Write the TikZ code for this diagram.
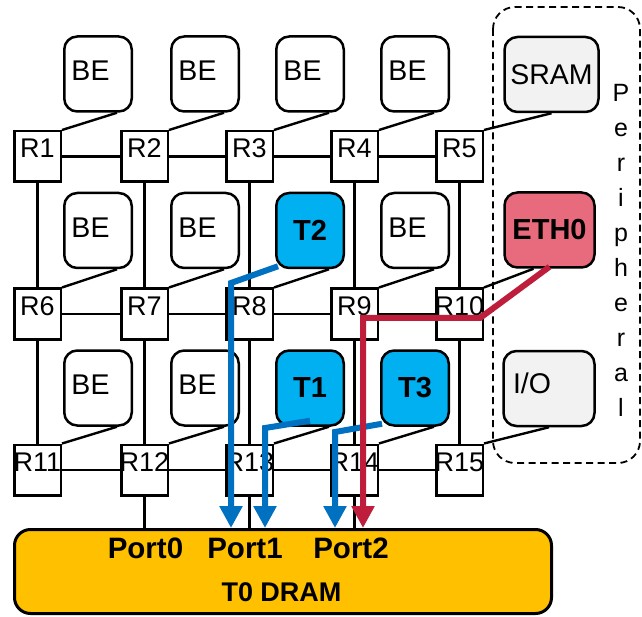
\documentclass[tikz,border=0pt]{standalone}
\usepackage{fontspec}
\setmainfont{Liberation Sans}
\usetikzlibrary{arrows.meta}
\definecolor{tcyan}{HTML}{00B0F0}
\definecolor{flowblue}{HTML}{0070C0}
\definecolor{flowred}{HTML}{BE1E3C}
\definecolor{ethpink}{HTML}{E86A7D}
\definecolor{perigray}{HTML}{F2F2F2}
\definecolor{dramgold}{HTML}{FFC000}
\begin{document}
\begin{tikzpicture}[x=1pt,y=-1pt,
  rlab/.style={font=\fontsize{27}{30}\selectfont, inner sep=0pt, yshift=8pt},
  router/.style={draw, line width=2.5pt, minimum width=46.5pt, minimum height=50.5pt, inner sep=0pt, fill=white, label={[rlab]center:#1}},
  blab/.style={font=\fontsize{28.5}{30}\selectfont, inner sep=0pt, xshift=-7.5pt, yshift=3pt},
  tile/.style={draw, line width=2.5pt, rounded corners=13pt, minimum width=67.5pt, minimum height=75pt, inner sep=0pt},
  betile/.style={tile, fill=white, label={[blab]center:BE}},
  ttile/.style={tile, fill=tcyan, font=\fontsize{29}{30}\selectfont\bfseries},
  link/.style={line width=2.4pt},
  flow/.style={line width=6pt, -{Triangle[width=22pt,length=22pt]}},
  boldlab/.style={font=\fontsize{29.5}{30}\selectfont\bfseries, inner sep=0pt},
  perilab/.style={font=\fontsize{25}{30}\selectfont, inner sep=0pt, anchor=base}
]
\useasboundingbox (0,0) rectangle (642,617);

% peripheral group
\draw[line width=1.8pt, dash pattern=on 7pt off 4.5pt, rounded corners=22pt] (493,7) rectangle (640,463);
\foreach \ch [count=\k from 0] in {P,e,r,i,p,h,e,r,a,l}
  \node[perilab] (pl\k) at (621,{101.7+35*\k}) {\ch};

% routers
\foreach \r/\y in {0/156.5,1/314,2/470}{
  \foreach \c/\x in {1/37.5,2/144.5,3/249.5,4/354.5,5/459.5}{
    \pgfmathtruncatemacro\n{\r*5+\c}
    \node[router=R\n] (r\n) at (\x,\y) {};
  }
}

% tiles
\node[betile] (be1) at (98,74) {};
\node[betile] (be2) at (205,74) {};
\node[betile] (be3) at (310,74) {};
\node[betile] (be4) at (415,74) {};
\node[tile, fill=perigray, minimum width=94pt, font=\fontsize{28.5}{30}\selectfont] (sram) at (551.5,74.5) {SRAM};

\node[betile] (be5) at (98,230.5) {};
\node[betile] (be6) at (205,230.5) {};
\node[ttile] (t2) at (310,230.5) {T2};
\node[betile] (be7) at (415,230.5) {};
\node[tile, fill=ethpink, minimum width=90pt, font=\fontsize{29}{30}\selectfont\bfseries] (eth0) at (549.5,230) {ETH0};

\node[betile] (be8) at (98,388) {};
\node[betile] (be9) at (205,388) {};
\node[ttile] (t1) at (310,388) {T1};
\node[ttile] (t3) at (415,388) {T3};
\node[tile, fill=perigray, minimum width=91pt, label={[font=\fontsize{28.5}{30}\selectfont, inner sep=0pt, xshift=-17pt, yshift=5pt]center:I/O}] (io) at (549,388.5) {};

% tile to router connectors
\foreach \t/\rr in {be1/r1,be2/r2,be3/r3,be4/r4,be5/r6,be6/r7,t2/r8,be7/r9,be8/r11,be9/r12,t1/r13,t3/r14}
  \draw[link] ([xshift=19pt]\t.south) -- (\rr.north east);
\draw[link] (sram.south) -- (r5.north east);
\draw[link] ([xshift=-16pt]eth0.south) -- (r10.north east);
\draw[link] (io.south) -- (r15.north east);

% mesh links
\foreach \a in {1,2,3,4,6,7,8,9,11,12,13,14}{
  \pgfmathtruncatemacro\b{\a+1}
  \draw[link] (r\a.east) -- (r\b.west);
}
\foreach \a in {1,...,10}{
  \pgfmathtruncatemacro\b{\a+5}
  \draw[link] (r\a.south) -- (r\b.north);
}

% DRAM
\node[draw, line width=3pt, rounded corners=16pt, fill=dramgold, minimum width=537pt, minimum height=84pt, inner sep=0pt] (dram) at (283,571.5) {};
\foreach \a in {12,13,14}
  \draw[link] (r\a.south) -- (r\a.south |- dram.north);
\node[boldlab] (port0) at (145.5,548) {Port0};
\node[boldlab] (port1) at (245,548) {Port1};
\node[boldlab] (port2) at (351,548) {Port2};
\node[font=\fontsize{27}{30}\selectfont\bfseries, inner sep=0pt] (dramlab) at (281.5,592.5) {T0 DRAM};

% flows
\coordinate (b2) at (231,283);
\coordinate (b1) at (265,428);
\coordinate (b3) at (335,432);
\coordinate (rA) at (480,318);
\coordinate (rB) at (363,318);
\draw[flow, flowblue] ([shift={(3pt,3pt)}]t2.south west) -- (b2) -- (b2 |- dram.north);
\draw[flow, flowblue] ([yshift=6pt]t1.south) -- (b1) -- (b1 |- dram.north);
\draw[flow, flowblue] ([shift={(2pt,3pt)}]t3.south west) -- (b3) -- (b3 |- dram.north);
\draw[flow, flowred] ([yshift=2pt]eth0.south) -- (rA) -- (rB) -- (rB |- dram.north);
\end{tikzpicture}
\end{document}
